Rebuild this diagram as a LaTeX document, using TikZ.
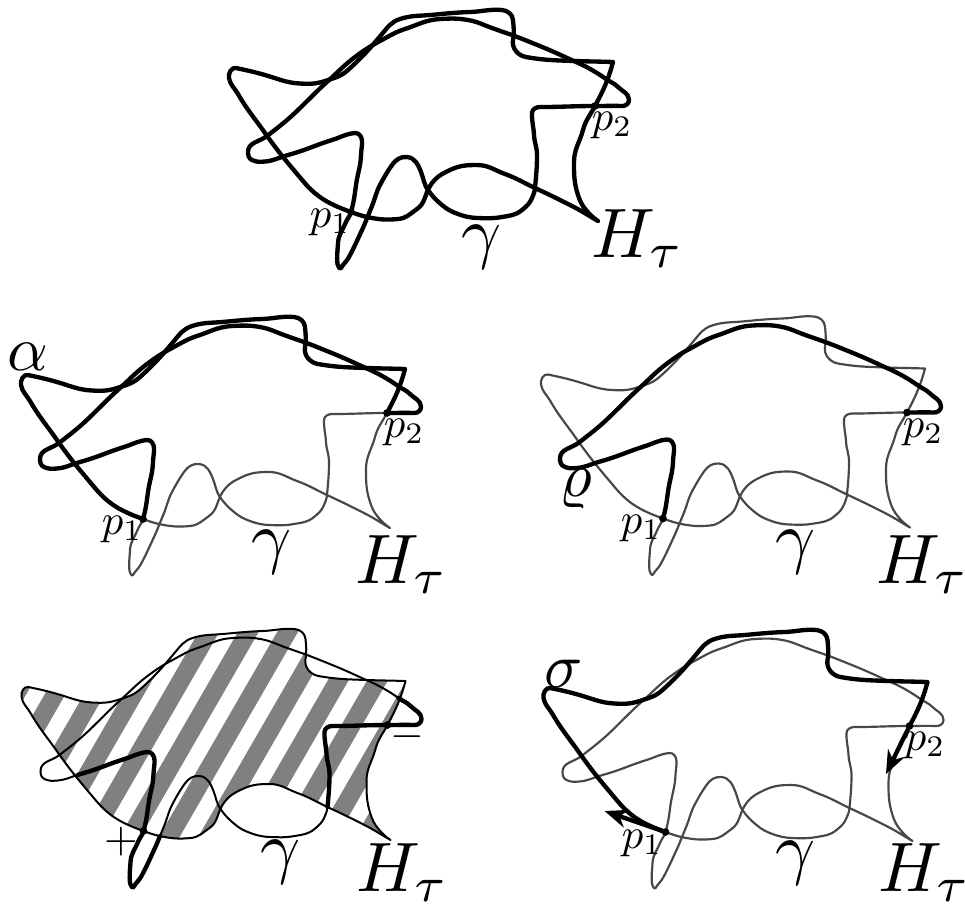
\documentclass[tikz,border=0pt]{standalone}
\usetikzlibrary{arrows.meta}
% ---------- curve C1 (closed): p1 -> upper route -> p2, then p2 -> lower route -> p1
\def\pTa{
 to[out=160,in=-50] (303,-181)
 to[out=130,in=-55] (265,-133)
 to[out=125,in=-60] (238,-94)
 to[out=120,in=-80] (229,-78)
 to[out=100,in=168] (236,-68)
 to[out=-12,in=164] (265,-75)
 to[out=-16,in=177] (300,-83.5)
 to[out=-3,in=-162] (325,-81)
 to[out=18,in=-138] (348,-70)
 to[out=42,in=-130] (382,-34)
 to[out=50,in=-162] (400,-19)
 to[out=18,in=-175] (430,-15)
 to[out=5,in=-178] (470,-12)
 to[out=2,in=175] (502,-10)
 to[out=-5,in=95] (513,-20)
 to[out=-85,in=80] (513,-40)
 to[out=-100,in=170] (526,-57)
 to[out=-10,in=178] (575,-61)
 to[out=-2,in=178] (613,-62)
 to[out=-105,in=62] (595,-106)}
\def\pTb{
 to[out=-118,in=75] (583,-130)
 to[out=-105,in=90] (574,-162)
 to[out=-90,in=108] (578,-195)
 to[out=-72,in=130] (586,-210)
 to[out=-50,in=145] (598,-221)
 to[out=150,in=-27] (572,-206)
 to[out=153,in=-25] (535,-188)
 to[out=155,in=-20] (505,-174)
 to[out=160,in=0] (477,-165)
 to[out=180,in=25] (450,-170)
 to[out=-155,in=58] (430,-186)
 to[out=-122,in=35] (417,-209)
 to[out=-145,in=5] (398,-219)
 to[out=-175,in=-10] (372,-218)
 to[out=170,in=-20] (351,-212)}
% ---------- curve C2 (closed, gamma): p1 -> X1 -> X3 -> p2 -> X4 -> X2 -> p1
\def\pSa{
 to[out=74,in=-98] (356,-185)
 to[out=82,in=-92] (361,-155)
 to[out=88,in=-88] (362,-141)
 to[out=92,in=5] (355,-133)
 to[out=-175,in=17] (332,-140)
 to[out=-163,in=18] (298,-152)
 to[out=-162,in=17] (285.4,-155.8)}
\def\pSb{
 to[out=-163,in=5] (265,-161.5)
 to[out=-175,in=-25] (252,-160)
 to[out=155,in=-90] (248,-152)
 to[out=90,in=-142] (267,-136)
 to[out=38,in=-136] (298,-110)
 to[out=44,in=-138] (328,-81)
 to[out=42,in=-143] (355,-57)
 to[out=37,in=-152] (380,-41)
 to[out=28,in=-162] (405,-29)
 to[out=18,in=-177] (440,-19)
 to[out=3,in=170] (468,-20)
 to[out=-10,in=160] (492,-28)
 to[out=-20,in=158] (525,-40)
 to[out=-22,in=155] (565,-57)
 to[out=-25,in=150] (592,-70)
 to[out=-30,in=145] (606,-79)}
\def\pSc{
 to[out=-35,in=135] (618,-87)
 to[out=-45,in=90] (629,-100)
 to[out=-90,in=-2] (622,-106)
 to[out=178,in=0] (595,-106)}
\def\pSd{
 to[out=180,in=0] (540,-107)
 to[out=180,in=88] (532,-113)
 to[out=-92,in=93] (534,-135)
 to[out=-87,in=90] (537,-155)
 to[out=-90,in=85] (535,-188)}
\def\pSe{
 to[out=-95,in=68] (532,-198)
 to[out=-112,in=40] (522,-210)
 to[out=-140,in=10] (502,-217)
 to[out=-170,in=-2] (478,-218)
 to[out=178,in=-20] (458,-214)
 to[out=160,in=-40] (442,-205)
 to[out=140,in=-55] (428,-190)
 to[out=125,in=-68] (421,-172)
 to[out=112,in=-5] (407,-157)
 to[out=175,in=55] (392,-165)
 to[out=-125,in=62] (380,-185)
 to[out=-118,in=68] (372,-206)
 to[out=-112,in=68] (367.5,-217)}
\def\pSf{
 to[out=-112,in=65] (362,-230)
 to[out=-115,in=62] (349,-257)
 to[out=-118,in=60] (341,-268)
 to[out=-120,in=-84] (337.5,-264)
 to[out=96,in=-93] (338,-243)
 to[out=87,in=-112] (345.5,-223)
 to[out=68,in=-106] (351,-212)}
\tikzset{
 thk/.style={line width=1.3pt, black, line cap=round, line join=round},
 thn/.style={line width=0.65pt, black!72, line cap=round, line join=round},
 thnb/.style={line width=0.6pt, black, line cap=round, line join=round},
 stripe/.style={line width=5.4pt, black!50},
 lab/.style={inner sep=0pt, anchor=base west},
 labP/.style={lab, scale=1.28},
 labG/.style={lab, scale=1.9},
 labL/.style={lab, scale=2.1},
 arr/.style={thk, -{Stealth[length=7pt,width=5.5pt]}},
}
\newcommand\pdots{\fill (351,-212) circle[radius=1.15pt]; \fill (595,-106) circle[radius=1.15pt];}
\begin{document}
\begin{tikzpicture}[x=0.3pt,y=0.3pt]
\useasboundingbox (0,0) rectangle (965,-907);
% ---------------- top
\begin{scope}
 \draw[thk] (351,-212) \pTa \pTb;
 \draw[thk] (351,-212) \pSa \pSb \pSc \pSd \pSe \pSf;
 \pdots
\end{scope}
% ---------------- middle left (alpha)
\begin{scope}[shift={(-208,-307)}]
 \draw[thn] (595,-106) \pTb;
 \draw[thn] (595,-106) \pSd \pSe \pSf;
 \draw[thk] (351,-212) \pTa;
 \draw[thk] (351,-212) \pSa \pSb \pSc;
 \pdots
\end{scope}
% ---------------- middle right (rho)
\begin{scope}[shift={(312,-306.5)}]
 \draw[thn] (351,-212) \pTa \pTb;
 \draw[thn] (595,-106) \pSd \pSe \pSf;
 \draw[thk] (351,-212) \pSa \pSb \pSc;
 \pdots
\end{scope}
% ---------------- bottom left (hatched)
\begin{scope}[shift={(-207.5,-619)}]
 \begin{scope}
  \clip (351,-212) \pTa \pTb -- cycle;
  \foreach \k in {-2,...,14} \draw[stripe] ({125.3+39.3*\k},-245) -- ++(60:300);
 \end{scope}
 \draw[thnb] (351,-212) \pTa \pTb;
 \draw[thnb] (351,-212) \pSa \pSb \pSc \pSd \pSe \pSf;
 \draw[thk] (367.5,-217) \pSf \pSa;
 \draw[thk] (606,-79) \pSc \pSd;
 \pdots
\end{scope}
% ---------------- bottom right (sigma)
\begin{scope}[shift={(314.5,-620)}]
 \draw[thn] (595,-106) \pTb;
 \draw[thn] (351,-212) \pSa \pSb \pSc \pSd \pSe \pSf;
 \draw[thk] (351,-212) \pTa;
 \coordinate (sp1) at (351,-212);
 \coordinate (sp2) at (595,-106);
 \coordinate (sa1) at (290,-191);
 \coordinate (sa2) at (571.5,-154);
 \draw[arr] (sp1) -- (sa1);
 \draw[arr] (sp2) -- (sa2);
 \pdots
\end{scope}
% ---------------- labels
\node[labP] (tp1) at (309,-227) {$p_1$};
\node[labP] (tp2) at (591,-130) {$p_2$};
\node[labL] (tg) at (460,-255) {$\gamma$};
\node[labL] (tH) at (590,-257) {$H_\tau$};
\node[labG] (la) at (6,-370) {$\alpha$};
\node[labP] (lp1) at (101,-534) {$p_1$};
\node[labP] (lp2) at (383,-437) {$p_2$};
\node[labL] (lg) at (250,-560) {$\gamma$};
\node[labL] (lH) at (354,-583) {$H_\tau$};
\node[labG] (rr) at (558,-496) {$\varrho$};
\node[labP] (rp1) at (620,-533) {$p_1$};
\node[labP] (rp2) at (902,-437) {$p_2$};
\node[labL] (rg) at (774,-560) {$\gamma$};
\node[labL] (rH) at (875,-583) {$H_\tau$};
\node[inner sep=0pt, scale=1.3] (bplus) at (121,-842) {$+$};
\node[inner sep=0pt, scale=1.3] (bminus) at (407,-737) {$-$};
\node[labL] (bg) at (259,-870) {$\gamma$};
\node[labL] (bH) at (355,-891) {$H_\tau$};
\node[labG] (ss) at (543,-687) {$\sigma$};
\node[labP] (sp1l) at (621,-848) {$p_1$};
\node[labP] (sp2l) at (904,-750) {$p_2$};
\node[labL] (sg) at (774,-871) {$\gamma$};
\node[labL] (sH) at (877,-891) {$H_\tau$};
\end{tikzpicture}
\end{document}
